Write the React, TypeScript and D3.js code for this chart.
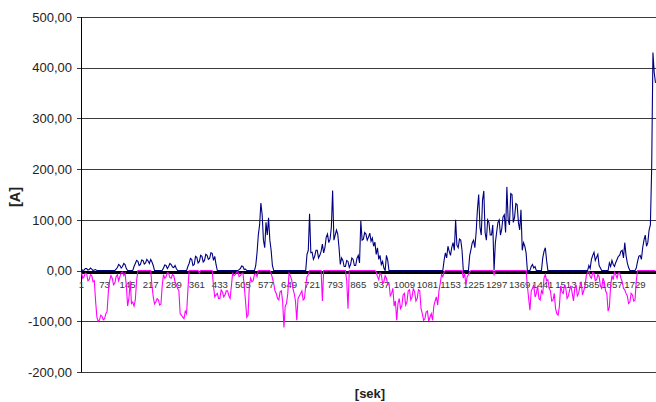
import React from "react";
import * as d3 from "d3";

// sample numbers (every 4th second) and readings
const STEP = 4;
const N_LAST = 1793;

const seriesPos: number[] = [
  3, 0, 1, 4, 4, 1, 2, 5, 3, 0, 1, 2, 0, 0, 0, 0, 0, 0, 0, 0,
  0, 0, 0, 0, 0, 0, 0, 3, 6, 12, 10, 5, 8, 14, 12, 4, 0, 0, 0, 0,
  0, 8, 14, 20, 18, 10, 12, 21, 20, 13, 15, 22, 19, 14, 22, 17, 10, 0, 0, 0,
  0, 0, 0, 0, 5, 11, 10, 4, 8, 14, 12, 7, 6, 10, 4, 0, 0, 0, 0, 0,
  0, 0, 0, 8, 14, 24, 22, 10, 12, 28, 26, 15, 18, 30, 28, 17, 20, 32, 30, 22,
  24, 35, 34, 20, 28, 12, 0, 0, 0, 0, 0, 0, 0, 0, 0, 0, 0, 0, 0, 0,
  0, 0, 0, 2, 4, 9, 8, 2, 3, 0, 0, 0, 0, 0, 0, 0, 10, 35, 70, 90,
  133, 110, 60, 45, 95, 70, 104, 60, 40, 10, 0, 0, 0, 0, 0, 0, 0, 0, 0, 0,
  0, 0, 0, 0, 0, 0, 0, 0, 0, 0, 0, 0, 0, 0, 0, 0, 32, 40, 112, 35,
  36, 22, 28, 40, 40, 25, 30, 38, 52, 35, 45, 66, 72, 55, 62, 85, 158, 60, 70, 80,
  72, 45, 12, 25, 20, 8, 8, 20, 18, 6, 12, 25, 22, 10, 10, 24, 30, 15, 98, 60,
  62, 75, 72, 60, 66, 74, 58, 64, 48, 56, 32, 45, 22, 30, 12, 18, 5, 0, 30, 20,
  0, 0, 0, 0, 0, 0, 0, 0, 0, 0, 0, 0, 0, 0, 0, 0, 0, 0, 0, 0,
  0, 0, 0, 0, 0, 0, 0, 0, 0, 0, 0, 0, 0, 0, 0, 0, 0, 0, 0, 0,
  0, 0, 0, 20, 35, 25, 48, 38, 30, 46, 55, 40, 100, 50, 45, 62, 60, 40, 0, 0,
  0, 0, 0, 30, 42, 55, 60, 45, 75, 120, 150, 85, 70, 139, 157, 75, 60, 100, 95, 70,
  70, 90, 0, 55, 75, 95, 100, 70, 82, 106, 110, 75, 165, 100, 90, 152, 150, 95, 105, 132,
  130, 95, 80, 120, 40, 55, 48, 35, 0, 0, 0, 8, 12, 5, 8, 0, 0, 0, 0, 0,
  25, 38, 45, 20, 0, 0, 0, 0, 0, 0, 0, 0, 0, 0, 0, 0, 0, 0, 0, 0,
  0, 0, 0, 0, 0, 0, 0, 0, 0, 0, 0, 0, 0, 0, 0, 0, 10, 4, 22, 30,
  36, 20, 26, 32, 10, 5, 0, 0, 0, 0, 0, 0, 15, 8, 20, 12, 8, 16, 22, 28,
  30, 38, 40, 25, 55, 30, 15, 6, 0, 0, 0, 0, 0, 5, 18, 28, 30, 22, 45, 60,
  70, 48, 55, 80, 90, 200, 430, 390, 370,
];

const seriesNeg: number[] = [
  -4, -15, -12, -5, -6, -20, -18, -8, -10, -22, -20, -60, -92, -100, -98, -88, -90, -97, -95, -85,
  -80, -40, -20, -10, -15, -28, -25, -12, -8, -20, -12, -4, -3, -10, -5, -30, -70, -55, -20, -65,
  -62, -70, -58, -20, 0, 0, 0, 0, 0, 0, 0, 0, 0, 0, 0, -30, -52, -66, -62, -55,
  -58, -68, -66, -30, -8, -15, -12, -4, -5, -14, -15, -8, -10, -22, -28, -35, -40, -85, -88, -92,
  -95, -80, -85, -40, 0, 0, 0, 0, 0, 0, 0, 0, -5, 0, 0, 0, 0, 0, 0, 0,
  0, 0, 0, -30, -52, -48, -45, -55, -55, -38, -42, -52, -48, -40, -40, -50, -55, -30, -4, -10,
  -8, -3, -2, -12, -10, -6, -5, -30, -60, -92, -88, -30, -15, -22, -20, -8, -6, -12, 0, 0,
  0, 0, 0, 0, 0, 0, 0, 0, -5, -15, -25, -40, -45, -55, -58, -42, -40, -62, -112, -70,
  -65, -45, -5, -10, -18, -35, -45, -60, -98, -55, -50, -45, -40, -58, -55, -30, -12, -8, 0, 0,
  0, 0, 0, 0, 0, 0, 0, 0, -60, 0, 0, 0, 0, 0, 0, 0, 0, 0, 0, 0,
  0, 0, 0, 0, 0, 0, 0, -20, -75, 0, 0, 0, 0, 0, 0, 0, 0, 0, 0, 0,
  0, 0, 0, 0, 0, 0, 0, 0, 0, 0, -3, -12, -18, -5, -8, -25, -22, -10, -15, -28,
  -25, -50, -45, -35, -70, -60, -98, -65, -55, -75, -70, -48, -45, -68, -62, -40, -38, -58, -52, -35,
  -42, -60, -55, -38, -40, -75, -85, -98, -95, -82, -80, -100, -92, -85, -98, -70, -60, -52, -68, -40,
  -25, -8, -12, -3, 0, 0, 0, 0, 0, 0, 0, 0, 0, 0, 0, 0, 0, 0, -15, -5,
  -28, -12, -8, -3, 0, 0, 0, 0, 0, 0, 0, 0, 0, 0, 0, 0, 0, 0, 0, 0,
  0, 0, -8, 0, 0, 0, 0, 0, 0, 0, 0, 0, 0, 0, 0, 0, 0, 0, 0, 0,
  0, 0, 0, 0, 0, 0, 0, 0, -30, -55, -78, -40, -35, -28, -52, -45, -30, -55, -58, -40,
  -45, -15, -8, -20, -18, -35, -40, -60, -58, -45, -75, -85, -88, -70, -30, -42, -45, -28, -35, -55,
  -50, -38, -30, -45, -60, -35, -28, -50, -45, -30, -22, -48, -40, -30, -10, -3, -2, -12, -15, -4,
  -5, -20, -18, -8, -12, -30, -35, -15, -22, -40, -45, -80, -72, -30, -10, -18, -3, -8, -15, -5,
  -5, -15, -22, -35, -38, -45, -50, -65, -62, -45, -48, -60, -58, -20, 0, 0, 0, 0, 0, 0,
  0, 0, 0, 0, 0, 0, 0, 0, 0,
];

const categories: number[] = seriesPos.map((_, i) => 1 + i * STEP);

const xTickLabels: number[] = [
  1, 73, 145, 217, 289, 361, 433, 505, 577, 649, 721, 793, 865, 937, 1009,
  1081, 1153, 1225, 1297, 1369, 1441, 1513, 1585, 1657, 1729,
];
const yTicks: number[] = [500, 400, 300, 200, 100, 0, -100, -200];

const W = 656;
const H = 402;

export default function App() {
  const x = d3.scaleLinear().domain([1, N_LAST]).range([81.5, 655.5]);
  const y = d3.scaleLinear().domain([-200, 500]).range([372, 17]);

  const line = d3
    .line<number>()
    .x((_, i) => x(categories[i]))
    .y((d) => y(d));

  const fmt = (v: number) => v.toFixed(2).replace(".", ",");
  const y0 = Math.round(y(0));

  return (
    <svg
      width={W}
      height={H}
      style={{ position: "fixed", left: 0, top: 0, background: "#fff" }}
      fontFamily="'Liberation Sans', Arial, sans-serif"
    >
      <rect x={0} y={0} width={W} height={H} fill="#fff" />
      {yTicks.map((t) => {
        const yy = Math.round(y(t)) + 0.5;
        return (
          <g key={t}>
            <line x1={77} x2={656} y1={yy} y2={yy} stroke="#3a3a3a" strokeWidth={1} />
            <text x={72} y={y(t)} dy="0.36em" textAnchor="end" fontSize={13} fill="#222">
              {fmt(t)}
            </text>
          </g>
        );
      })}
      <line x1={81.5} x2={81.5} y1={17} y2={372.5} stroke="#000" strokeWidth={1} />
      {xTickLabels.map((c) => (
        <text key={c} x={x(c)} y={287.5} textAnchor="middle" fontSize={9.6} fill="#333">
          {c}
        </text>
      ))}
      <line x1={81.5} x2={656} y1={y0 + 1.5} y2={y0 + 1.5} stroke="#000" strokeWidth={3} />
      <path d={line(seriesPos) || ""} fill="none" stroke="#000080" strokeWidth={1.1} />
      <path d={line(seriesNeg) || ""} fill="none" stroke="#ff00ff" strokeWidth={1.1} />
      <text
        transform="translate(20,197) rotate(-90)"
        textAnchor="middle"
        fontSize={14.5}
        fontWeight="bold"
        fill="#222"
      >
        [A]
      </text>
      <text x={370} y={398} textAnchor="middle" fontSize={13} fontWeight="bold" fill="#222">
        [sek]
      </text>
    </svg>
  );
}
